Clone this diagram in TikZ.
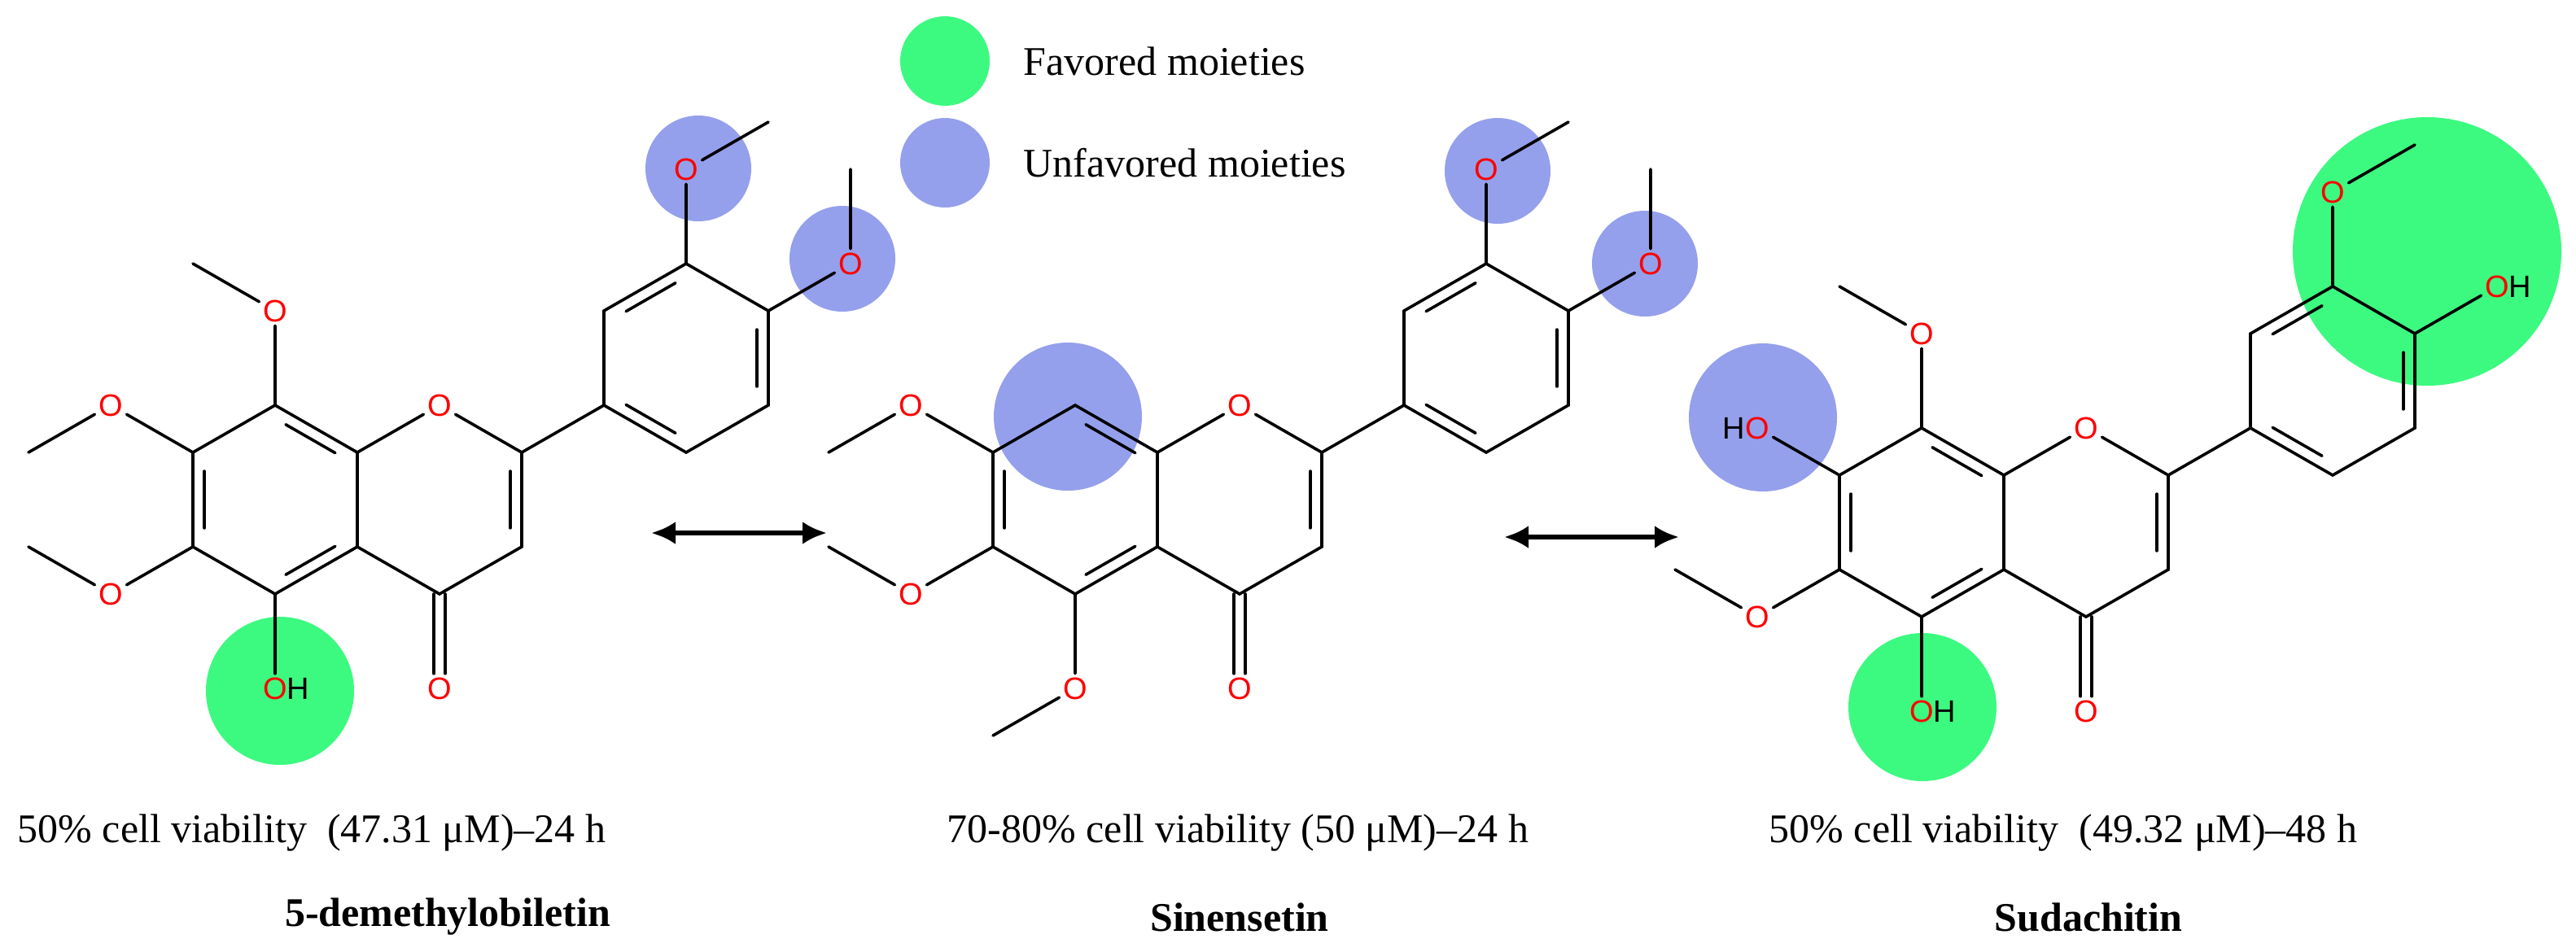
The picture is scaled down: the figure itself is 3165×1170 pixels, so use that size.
\documentclass[tikz,border=0pt]{standalone}
\usepackage{fontspec}
\setmainfont{Liberation Serif}
\newfontfamily\atomfont{Liberation Sans}
\usetikzlibrary{calc,arrows.meta}
\definecolor{fav}{HTML}{3CFA80}
\definecolor{unfav}{HTML}{95A0EC}
\newcommand\dbl[3]{\draw ($(#1)!0.15!(#2)!0.14!(#3)$) -- ($(#2)!0.15!(#1)!0.14!(#3)$);}
\newcommand\skel[3]{%
\begin{scope}[shift={(#2,#3)}]
\coordinate (#1c8) at (338,498); \coordinate (#1c7) at (237,556);
\coordinate (#1c6) at (237,672); \coordinate (#1c5) at (338,730);
\coordinate (#1c4a) at (439,672); \coordinate (#1c8a) at (439,556);
\coordinate (#1c2) at (641,556); \coordinate (#1c3) at (641,672);
\coordinate (#1c4) at (540,730);
\coordinate (#1c1p) at (742,498); \coordinate (#1c2p) at (742,382);
\coordinate (#1c3p) at (843,324); \coordinate (#1c4p) at (944,382);
\coordinate (#1c5p) at (944,498); \coordinate (#1c6p) at (843,556);
\coordinate (#1rA) at (338,614); \coordinate (#1rC) at (540,614); \coordinate (#1rB) at (843,440);
\node[atom] (#1o1) at (540,498) {O};
\node[atom] (#1o4) at (540,846) {O};
\coordinate (#1m7) at (35,556); \coordinate (#1m6) at (35,672);
\coordinate (#1m8) at (237,324); \coordinate (#1m5) at (237,904);
\coordinate (#1m3p) at (944,150); \coordinate (#1m4p) at (1045,208);
\end{scope}
\draw (#1c8a)--(#1c8)--(#1c7)--(#1c6)--(#1c5)--(#1c4a)--(#1c8a);
\draw (#1c8a)--(#1o1)--(#1c2)--(#1c3)--(#1c4)--(#1c4a);
\draw (#1c2)--(#1c1p)--(#1c2p)--(#1c3p)--(#1c4p)--(#1c5p)--(#1c6p)--(#1c1p);
\dbl{#1c8}{#1c8a}{#1rA}\dbl{#1c7}{#1c6}{#1rA}\dbl{#1c5}{#1c4a}{#1rA}
\dbl{#1c2}{#1c3}{#1rC}
\dbl{#1c1p}{#1c6p}{#1rB}\dbl{#1c2p}{#1c3p}{#1rB}\dbl{#1c4p}{#1c5p}{#1rB}
\draw ([xshift=-7pt]#1c4) -- ([xshift=-7pt]#1o4.north);
\draw ([xshift=7pt]#1c4) -- ([xshift=7pt]#1o4.north);
}
\begin{document}
\begin{tikzpicture}[x=1pt,y=-1pt,
  atom/.style={font=\atomfont\fontsize{38}{38}\selectfont,text=red,inner sep=3pt},
  lbl/.style={font=\fontsize{50}{60}\selectfont,inner sep=0pt},
  cname/.style={font=\bfseries\fontsize{50}{60}\selectfont,inner sep=0pt},
  dblarrow/.style={line width=6pt,{Latex[length=30pt,width=28pt]}-{Latex[length=30pt,width=28pt]}},
  every path/.style={line width=3.6pt,line cap=round}]
\useasboundingbox (0,0) rectangle (3165,1170);
% highlight circles
\fill[unfav] (858,207) circle (65) (1035,318) circle (65);
\fill[fav] (344,849) circle (91);
\fill[unfav] (1312,512) circle (91) (1840,210) circle (65) (2021,324) circle (65);
\fill[unfav] (2166,513) circle (91);
\fill[fav] (2362,869) circle (91) (2982,309) circle (165);
% legend
\fill[fav] (1161,75) circle (55);
\fill[unfav] (1161,200) circle (55);
\node[lbl,anchor=west] (lfav) at (1256,75) {Favored moieties};
\node[lbl,anchor=west] (lunf) at (1256,200) {Unfavored moieties};
% molecule 1
\skel{a}{0}{0}
\node[atom] (ao8) at (338,382) {O};
\node[atom] (ao7) at (136,498) {O};
\node[atom] (ao6) at (136,730) {O};
\node[atom] (ao5) at (338,846) {O\rlap{\textcolor{black}{H}}};
\node[atom] (ao3p) at (843,208) {O};
\node[atom] (ao4p) at (1045,324) {O};
\draw (ac8)--(ao8)--(am8); \draw (ac7)--(ao7)--(am7); \draw (ac6)--(ao6)--(am6);
\draw (ac5)--(ao5); \draw (ac3p)--(ao3p)--(am3p); \draw (ac4p)--(ao4p)--(am4p);
% molecule 2
\skel{b}{983}{0}
\node[atom] (bo7) at (1119,498) {O};
\node[atom] (bo6) at (1119,730) {O};
\node[atom] (bo5) at (1321,846) {O};
\node[atom] (bo3p) at (1826,208) {O};
\node[atom] (bo4p) at (2028,324) {O};
\draw (bc7)--(bo7)--(bm7); \draw (bc6)--(bo6)--(bm6); \draw (bc5)--(bo5)--(bm5);
\draw (bc3p)--(bo3p)--(bm3p); \draw (bc4p)--(bo4p)--(bm4p);
% molecule 3
\skel{c}{2023}{28}
\node[atom] (co8) at (2361,410) {O};
\node[atom] (co7) at (2159,526) {\llap{\textcolor{black}{H}}O};
\node[atom] (co6) at (2159,758) {O};
\node[atom] (co5) at (2361,874) {O\rlap{\textcolor{black}{H}}};
\node[atom] (co3p) at (2866,236) {O};
\node[atom] (co4p) at (3068,352) {O\rlap{\textcolor{black}{H}}};
\draw (cc8)--(co8)--(cm8); \draw (cc7)--(co7); \draw (cc6)--(co6)--(cm6);
\draw (cc5)--(co5); \draw (cc3p)--(co3p)--(cm3p); \draw (cc4p)--(co4p);
% arrows
\coordinate (ar1l) at (800,655); \coordinate (ar1r) at (1016,655);
\coordinate (ar2l) at (1848,660); \coordinate (ar2r) at (2063,660);
\draw[dblarrow,line cap=butt] (ar1l) -- (ar1r);
\draw[dblarrow,line cap=butt] (ar2l) -- (ar2r);
% texts
\node[lbl,anchor=base west] (t1) at (20,1035) {50\% cell viability\ \ (47.31 μM)–24 h};
\node[lbl,anchor=base west] (t2) at (1162,1035) {70-80\% cell viability (50 μM)–24 h};
\node[lbl,anchor=base west] (t3) at (2172,1035) {50\% cell viability\ \ (49.32 μM)–48 h};
\node[cname] (n1) at (550,1127) {5-demethylobiletin};
\node[cname] (n2) at (1523,1127) {Sinensetin};
\node[cname] (n3) at (2566,1127) {Sudachitin};
\end{tikzpicture}
\end{document}
